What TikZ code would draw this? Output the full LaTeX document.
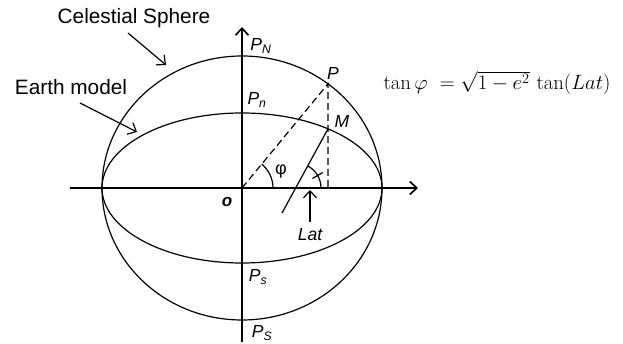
\documentclass[tikz,border=0pt]{standalone}
\usepackage{fontspec}
\newfontfamily\labelfont{Liberation Sans}
\usetikzlibrary{arrows.meta}
\begin{document}
\begin{tikzpicture}[x=1pt, y=1pt, line width=1.2pt,
    lbl/.style={font=\labelfont\fontsize{20.8}{24}\selectfont, inner sep=0pt},
    pole/.style={font=\labelfont\itshape\fontsize{17.5}{20}\selectfont, inner sep=0pt},
    axis/.style={line width=1.7pt, ->},
    >={Straight Barb[length=7pt, width=13pt]}]
    \useasboundingbox (-242,-156) rectangle (381,188);

    % Points
    \coordinate (O) at (0,0);
    \coordinate (P) at (52.1:140 and 132);
    \coordinate (M) at (52.1:140 and 75);
    \coordinate (F) at (P |- O);
    \coordinate (C) at (54,0);
    \coordinate (E) at (40,-25);

    % Celestial sphere and earth model
    \draw (O) ellipse [x radius=140, y radius=132];
    \draw (O) ellipse [x radius=140, y radius=75];

    % Axes
    \coordinate (xs) at (-172,0);
    \coordinate (xe) at (176,0);
    \coordinate (ys) at (0,-154);
    \coordinate (ye) at (0,161);
    \draw[axis] (xs) -- (xe);
    \draw[axis] (ys) -- (ye);

    % Dashed lines
    \draw[dash pattern=on 7pt off 4pt] (O) -- (P) -- (F);

    % Normal at M
    \draw (M) -- (E);

    % Angles
    \draw (31,0) arc[start angle=0, end angle=50.3, radius=31];
    \draw ([xshift=25pt]C) arc[start angle=0, end angle=61.3, radius=25];
    \draw ([shift={(30:19)}]C) -- ([shift={(30:31)}]C);
    \node[font=\labelfont\fontsize{18}{20}\selectfont] (phi) at (39,16) {φ};

    % Lat
    \node[pole] (lat) at (68,-47) {Lat};
    \coordinate (latTip) at (68,-2);
    \draw[->] ([yshift=-4pt]lat.north) ++(0,10) -- (latTip);

    % Pole labels
    \node[pole] (PN) at (19,142) {P\textsubscript{N}};
    \node[pole] (Pn) at (15,88) {P\textsubscript{n}};
    \node[pole] (Ps) at (16,-89) {P\textsubscript{s}};
    \node[pole] (PS) at (20,-145) {P\textsubscript{S}};
    \node[pole] (Plbl) at (91,115) {P};
    \node[pole] (Mlbl) at (100,67) {M};
    \node[font=\labelfont\bfseries\itshape\fontsize{17}{20}\selectfont] (o) at (-15,-14) {o};

    % Callouts
    \node[lbl] (cs) at (-108,170) {Celestial Sphere};
    \coordinate (csTip) at (-76,123);
    \draw[->] ([shift={(-6,-15)}]cs.center) -- (csTip);
    \node[lbl] (em) at (-171,101) {Earth model};
    \coordinate (emTip) at (-105,56);
    \draw[->] ([shift={(9,-16)}]em.center) -- (emTip);

    % Formula
    \node[font=\huge] (eq) at (255,105) {$\tan\varphi\ = \sqrt{1-e^{2}}\,\tan(Lat)$};
\end{tikzpicture}
\end{document}
